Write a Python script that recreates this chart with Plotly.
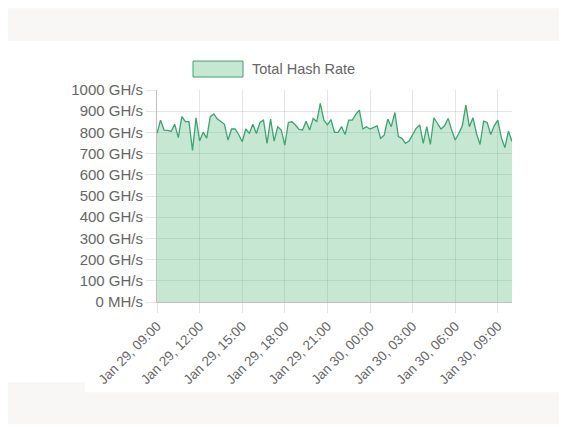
import pandas as pd
import plotly.graph_objects as go

# Hash rate cada 15 minutos (GH/s)
hash_rate_ghs = [
    796, 858, 811, 810, 805, 838, 775, 874, 851, 851, 715, 869, 760, 801, 773, 874, 887, 863, 851, 838,
    764, 816, 816, 790, 756, 816, 795, 838, 795, 847, 858, 748, 863, 759, 827, 811, 740, 847, 850, 835,
    814, 811, 853, 811, 866, 850, 937, 858, 835, 860, 800, 800, 827, 790, 858, 858, 885, 905, 816, 827,
    816, 824, 831, 772, 787, 863, 827, 894, 780, 772, 748, 759, 790, 819, 835, 748, 827, 743, 869, 843,
    816, 831, 866, 811, 764, 795, 831, 929, 827, 869, 795, 743, 853, 847, 790, 831, 858, 775, 728, 806,
    757,
]
inicio = "2024-01-29 09:00"
tiempos = pd.date_range(inicio, periods=len(hash_rate_ghs), freq="15min")

y_ticks = [0, 100, 200, 300, 400, 500, 600, 700, 800, 900, 1000]
y_labels = ["0 MH/s"] + [f"{v} GH/s" for v in y_ticks[1:]]
serie = "Total Hash Rate"

gris = "#666666"
grid = "rgba(0,0,0,0.1)"
linea = "#3ca46f"
relleno = "rgba(92,190,130,0.35)"

fig = go.Figure()
fig.add_trace(go.Scatter(
    x=tiempos,
    y=hash_rate_ghs,
    name=serie,
    mode="lines",
    line=dict(color=linea, width=1.3),
    fill="tozeroy",
    fillcolor=relleno,
    showlegend=False,
))

# la página añade 8px de margen al body, por eso todo va desplazado 8px
W, H = 559, 417
L, R, T, B = 149, 504, 82, 294.5
def px_x(p): return (p - L) / (R - L)
def px_y(p): return (B - p) / (B - T)

# bandas grises de fondo (fuera del lienzo del gráfico)
bandas = [(0, 0, W, 33), (0, 375, 77, H), (77, 385, W, H)]
shapes = [
    dict(type="rect", xref="paper", yref="paper", x0=px_x(x0), x1=px_x(x1), y0=px_y(y1), y1=px_y(y0),
         fillcolor="#f8f7f5", line=dict(width=0), layer="below")
    for x0, y0, x1, y1 in bandas
]
# caja de la leyenda estilo Chart.js
shapes.append(dict(type="rect", xref="paper", yref="paper",
                   x0=px_x(185), x1=px_x(235), y0=px_y(69), y1=px_y(53),
                   fillcolor=relleno, line=dict(color=linea, width=1)))

fig.update_layout(
    width=W, height=H,
    margin=dict(l=L, r=W - R, t=T, b=H - B),
    paper_bgcolor="white",
    plot_bgcolor="white",
    font=dict(family="Liberation Sans, Arial, sans-serif", color=gris, size=14),
    shapes=shapes,
    annotations=[dict(text=serie, xref="paper", yref="paper", x=px_x(242), y=px_y(61),
                      xanchor="left", yanchor="middle", showarrow=False,
                      font=dict(size=14.5, color=gris))],
)
fig.update_xaxes(
    range=[tiempos[0], tiempos[-1]],
    tickformat="%b %d, %H:%M",
    dtick=3 * 3600 * 1000,
    tick0=inicio,
    tickangle=-45,
    tickfont=dict(size=13.5),
    showgrid=True, gridcolor=grid, gridwidth=1,
    ticks="outside", ticklen=10, tickcolor=grid,
    showline=True, linecolor="rgba(0,0,0,0.25)", linewidth=1,
    zeroline=False,
)
fig.update_yaxes(
    range=[0, 1000],
    tickvals=y_ticks,
    ticktext=y_labels,
    tickfont=dict(size=15),
    showgrid=True, gridcolor=grid, gridwidth=1,
    ticks="outside", ticklen=10, tickcolor=grid,
    showline=True, linecolor="rgba(0,0,0,0.25)", linewidth=1,
    zeroline=False,
)

fig.write_html("out.html")
